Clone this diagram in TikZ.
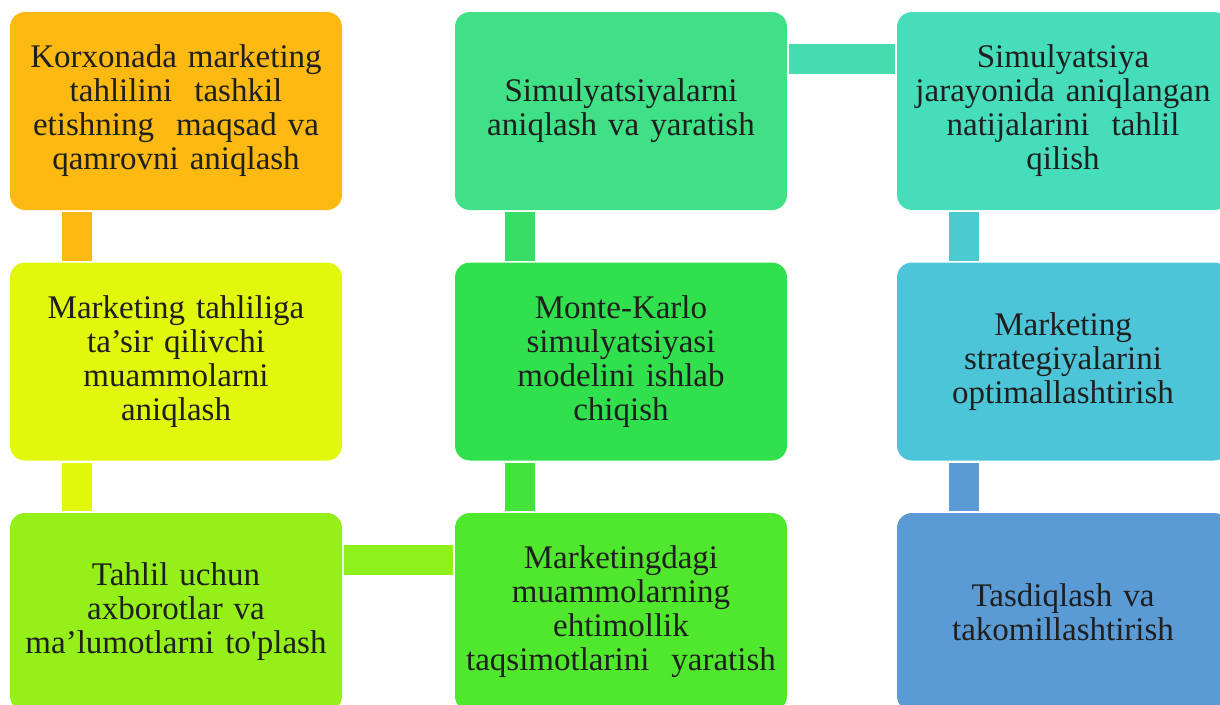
\documentclass[tikz,border=0pt]{standalone}
\usepackage{fontspec}
\setmainfont{Liberation Serif}
\newfontfamily\rawf{Liberation Serif}[Ligatures=TeXOff]
\usetikzlibrary{calc}
\definecolor{cA}{HTML}{FBB912}
\definecolor{cB}{HTML}{E1F80C}
\definecolor{cC}{HTML}{95F01A}
\definecolor{cD}{HTML}{50E82C}
\definecolor{cE}{HTML}{30E04C}
\definecolor{cF}{HTML}{40E086}
\definecolor{cG}{HTML}{46DDBB}
\definecolor{cH}{HTML}{4DC5D8}
\definecolor{cI}{HTML}{5B9BD5}
\definecolor{cAB}{HTML}{FBB912}
\definecolor{cBC}{HTML}{E1F80C}
\definecolor{cCD}{HTML}{8FF01C}
\definecolor{cDE}{HTML}{42E43A}
\definecolor{cEF}{HTML}{36DE68}
\definecolor{cFG}{HTML}{45DDAE}
\definecolor{cGH}{HTML}{4BCBD0}
\definecolor{cHI}{HTML}{5B9BD5}
\newcommand{\sq}{{\rawf '}}
\tikzset{
  box/.style={rounded corners=15pt, minimum width=332pt, minimum height=198pt,
    inner sep=0pt, outer sep=0pt, align=center, text width=328pt,
    font=\fontsize{33}{34}\selectfont, text=black!88},
  conn/.style={line width=30pt, line cap=butt, shorten <=2pt, shorten >=2pt}
}
\begin{document}
\begin{tikzpicture}[x=1pt,y=-1pt]
\useasboundingbox (0,0) rectangle (1220,704);
\begin{scope}
\clip (0,0) rectangle (1220,704);
\node[box, fill=cA] (b1) at (176,111) {Korxonada marketing\\tahlilini\ \ tashkil\\etishning\ \ maqsad va\\qamrovni aniqlash};
\node[box, fill=cB] (b2) at (176,361.5) {Marketing tahliliga\\ta’sir qilivchi\\muammolarni\\aniqlash};
\node[box, fill=cC] (b3) at (176,612) {Tahlil uchun\\axborotlar va\\ma’lumotlarni to\sq plash};
\node[box, fill=cD] (b4) at (621,612) {Marketingdagi\\muammolarning\\ehtimollik\\taqsimotlarini\ \ yaratish};
\node[box, fill=cE] (b5) at (621,361.5) {Monte-Karlo\\simulyatsiyasi\\modelini ishlab\\chiqish};
\node[box, fill=cF] (b6) at (621,111) {Simulyatsiyalarni\\aniqlash va yaratish};
\node[box, fill=cG] (b7) at (1063,111) {Simulyatsiya\\jarayonida aniqlangan\\natijalarini\ \ tahlil\\qilish};
\node[box, fill=cH] (b8) at (1063,361.5) {Marketing\\strategiyalarini\\optimallashtirish};
\node[box, fill=cI] (b9) at (1063,612) {Tasdiqlash va\\takomillashtirish};
\draw[conn, cAB] ($(b1.south west)+(67,0)$) -- ($(b2.north west)+(67,0)$);
\draw[conn, cBC] ($(b2.south west)+(67,0)$) -- ($(b3.north west)+(67,0)$);
\draw[conn, cCD] ($(b3.north east)+(0,47)$) -- ($(b4.north west)+(0,47)$);
\draw[conn, cDE] ($(b4.north west)+(65,0)$) -- ($(b5.south west)+(65,0)$);
\draw[conn, cEF] ($(b5.north west)+(65,0)$) -- ($(b6.south west)+(65,0)$);
\draw[conn, cFG] ($(b6.north east)+(0,47)$) -- ($(b7.north west)+(0,47)$);
\draw[conn, cGH] ($(b7.south west)+(67,0)$) -- ($(b8.north west)+(67,0)$);
\draw[conn, cHI] ($(b8.south west)+(67,0)$) -- ($(b9.north west)+(67,0)$);
\end{scope}
\end{tikzpicture}
\end{document}
